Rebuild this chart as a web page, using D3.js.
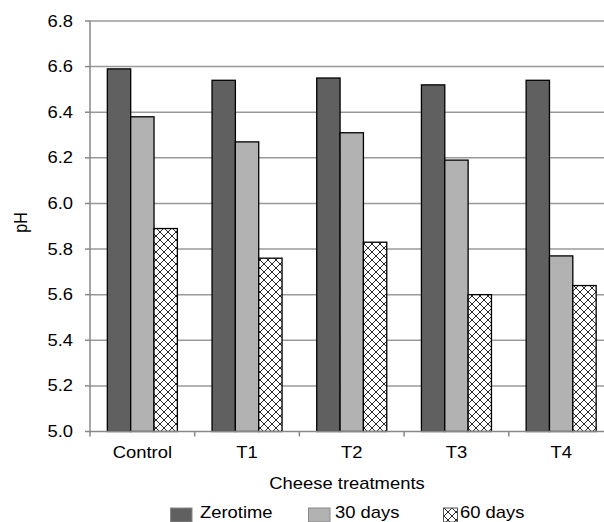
<!DOCTYPE html>
<html><head><meta charset="utf-8">
<script src="https://cdn.jsdelivr.net/npm/d3@7"></script>
<style>body{margin:0;background:#fff}svg{display:block}text{font-family:Arial,"Liberation Sans",sans-serif;fill:#000}</style>
</head><body><div id="c"></div>
<script>
const categories = ["Control", "T1", "T2", "T3", "T4"];
const seriesNames = ["Zerotime", "30 days", "60 days"];
const zerotime = [6.59, 6.54, 6.55, 6.52, 6.54];
const days30 = [6.38, 6.27, 6.31, 6.19, 5.77];
const days60 = [5.89, 5.76, 5.83, 5.60, 5.64];
const yTicks = [5.0, 5.2, 5.4, 5.6, 5.8, 6.0, 6.2, 6.4, 6.6, 6.8];

const W = 604, H = 522, SX = 1.15;
const svg = d3.select("#c").append("svg").attr("width", W).attr("height", H);
const defs = svg.append("defs");
const pat = defs.append("pattern").attr("id", "hatch").attr("patternUnits", "userSpaceOnUse")
  .attr("width", 8).attr("height", 8);
pat.append("rect").attr("width", 8).attr("height", 8).attr("fill", "#fff");
pat.append("path").attr("d", "M0,0L8,8M8,0L0,8M-1,7L1,9M7,-1L9,1M-1,1L1,-1M7,9L9,7")
  .attr("stroke", "#111").attr("stroke-width", 0.9);

function txt(x, y, s, anchor, size, rot) {
  return svg.append("text")
    .attr("transform", `translate(${x},${y}) scale(${SX},1)` + (rot ? ` rotate(${rot})` : ""))
    .attr("text-anchor", anchor || "start").attr("font-size", size || 16).text(s);
}

const x0 = 90, bandW = 104.7;
const x = d3.scaleBand().domain(categories).range([x0, x0 + bandW * categories.length]).paddingInner(0).paddingOuter(0);
const xs = d3.scaleBand().domain(seriesNames).range([0, bandW]).paddingOuter(0.7428).paddingInner(0);
const y = d3.scaleLinear().domain([5.0, 6.8]).range([431.5, 21]);

// gridlines
svg.append("g").selectAll("line").data(yTicks.slice(1)).join("line")
  .attr("x1", x0).attr("x2", W).attr("y1", d => y(d)).attr("y2", d => y(d))
  .attr("stroke", "#999").attr("stroke-width", 1.5);

const fills = ["#606060", "#b2b2b2", "url(#hatch)"];
const data = [zerotime, days30, days60];
const g = svg.append("g");
categories.forEach((c, i) => {
  seriesNames.forEach((s, j) => {
    const v = data[j][i];
    g.append("rect").attr("x", x(c) + xs(s)).attr("y", y(v))
      .attr("width", xs.bandwidth()).attr("height", y(5.0) - y(v))
      .attr("fill", fills[j]).attr("stroke", "#000").attr("stroke-width", 1.3);
  });
});

// y axis
svg.append("g").selectAll("line").data(yTicks).join("line")
  .attr("x1", x0 - 5).attr("x2", x0).attr("y1", d => y(d)).attr("y2", d => y(d))
  .attr("stroke", "#888").attr("stroke-width", 1.5);
const fmt = d3.format(".1f");
yTicks.forEach(t => txt(73, y(t) + 5.5, fmt(t), "end", 16));
svg.append("line").attr("x1", x0).attr("x2", x0).attr("y1", y(6.8)).attr("y2", y(5.0) + 5)
  .attr("stroke", "#888").attr("stroke-width", 1.5);

// x axis
svg.append("line").attr("x1", x0).attr("x2", W).attr("y1", y(5.0)).attr("y2", y(5.0))
  .attr("stroke", "#888").attr("stroke-width", 1.5);
const bounds = categories.map(c => x(c) + bandW);
svg.append("g").selectAll("line").data(bounds).join("line")
  .attr("x1", d => d).attr("x2", d => d).attr("y1", y(5.0)).attr("y2", y(5.0) + 5)
  .attr("stroke", "#888").attr("stroke-width", 1.5);
categories.forEach(c => txt(x(c) + bandW / 2, 457.5, c, "middle", 16));

txt(347, 488.5, "Cheese treatments", "middle", 16);
txt(27, 222.5, "pH", "middle", 16, -90);

// legend
const legX = [170.5, 308.5, 443.5], legTextX = [200, 335, 460], legW = [21.5, 21.5, 14];
seriesNames.forEach((s, j) => {
  svg.append("rect").attr("x", legX[j]).attr("y", 508).attr("width", legW[j]).attr("height", 14)
    .attr("fill", fills[j]).attr("stroke", j === 2 ? "#555" : "#888").attr("stroke-width", 1);
  txt(legTextX[j], 518, s, "start", 16);
});
</script></body></html>
